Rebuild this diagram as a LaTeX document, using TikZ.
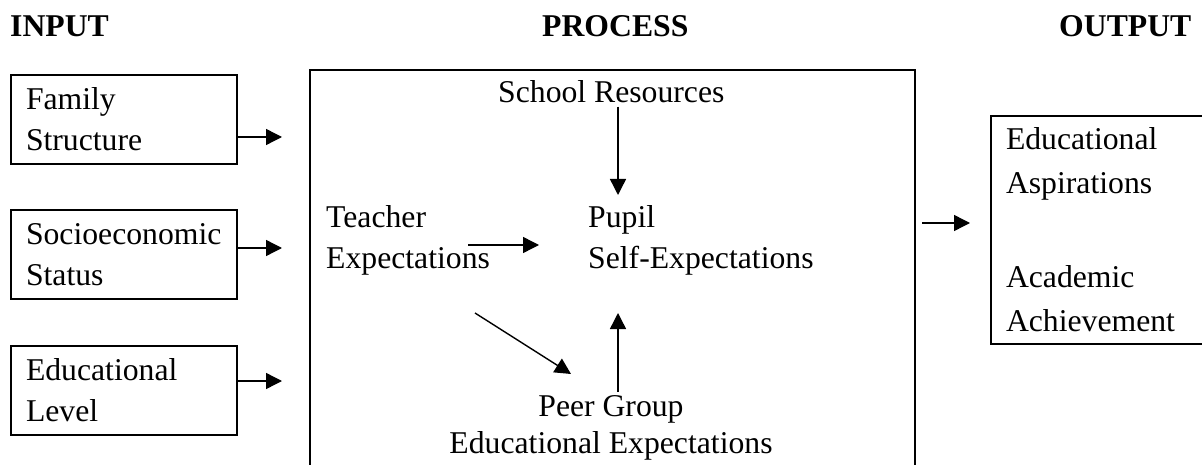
\documentclass[tikz,border=0pt]{standalone}
\usepackage{fontspec}
\setmainfont{Liberation Serif}
\usetikzlibrary{arrows.meta}
\tikzset{txt/.style={font=\fontsize{31.7}{41}\selectfont, inner sep=3pt},
  head/.style={font=\fontsize{31.7}{41}\selectfont\bfseries, inner sep=0pt, anchor=base west},
  inbox/.style={txt, draw=black, line width=2pt, anchor=north west, align=left, minimum width=226pt, minimum height=89pt, text width=196pt, inner xsep=15pt},
  arr/.style={line width=1.4pt, -{Triangle[length=16pt,width=16pt]}}}

\begin{document}
\begin{tikzpicture}[x=1pt, y=-1pt]
\useasboundingbox (0,0) rectangle (1202,465);
% column titles
 \node[head] (input) at (10,37) {INPUT};
 \node[head] (process) at (542,37) {PROCESS};
 \node[head] (output) at (1059,37) {OUTPUT};
% input boxes
 \node[inbox] (family) at (10,74) {Family\\Structure};
 \node[inbox] (ses) at (10,209) {Socioeconomic\\Status};
 \node[inbox] (edu) at (10,345) {Educational\\Level};
 \coordinate (in1) at (282,137);
 \coordinate (in2) at (282,248);
 \coordinate (in3) at (282,381);
 \draw[arr] (family.east |- in1) -- (in1);
 \draw[arr] (ses.east |- in2) -- (in2);
 \draw[arr] (edu.east |- in3) -- (in3);
% process frame, open at the bottom
 \draw[line width=2pt] (310,470) -- (310,70) coordinate (pnw) -- (915,70) coordinate (pne) -- (915,470);
 \node[txt, anchor=base west] (school) at (495,103) {School Resources};
 \node[txt, anchor=north west, align=left] (teacher) at (323,202) {Teacher\\Expectations};
 \node[txt, anchor=north west, align=left] (pupil) at (585,202) {Pupil\\Self-Expectations};
 \node[txt, anchor=north, align=center, font=\fontsize{31.7}{37}\selectfont] (peer) at (611,392) {Peer Group\\Educational Expectations};
 \coordinate (sp) at (618,195);
 \coordinate (tp) at (539,245);
 \coordinate (tq0) at (475,313);
 \coordinate (tq1) at (571,374);
 \coordinate (pq) at (618,313);
 \draw[arr] (sp |- school.south) -- (sp);
 \draw[arr] ([xshift=-25pt]teacher.east |- tp) -- (tp);
 \draw[arr] (tq0) -- (tq1);
 \draw[arr] (pq |- peer.north) -- (pq);
% output box
 \node[inbox, minimum width=232pt, minimum height=228pt, text width=202pt, font=\fontsize{31.7}{44}\selectfont] (result) at (990,115) {Educational\\Aspirations\\[50pt]Academic\\Achievement};
 \coordinate (oa) at (970,223);
 \draw[arr] ([xshift=7pt]pne |- oa) -- (oa);
\end{tikzpicture}
\end{document}
